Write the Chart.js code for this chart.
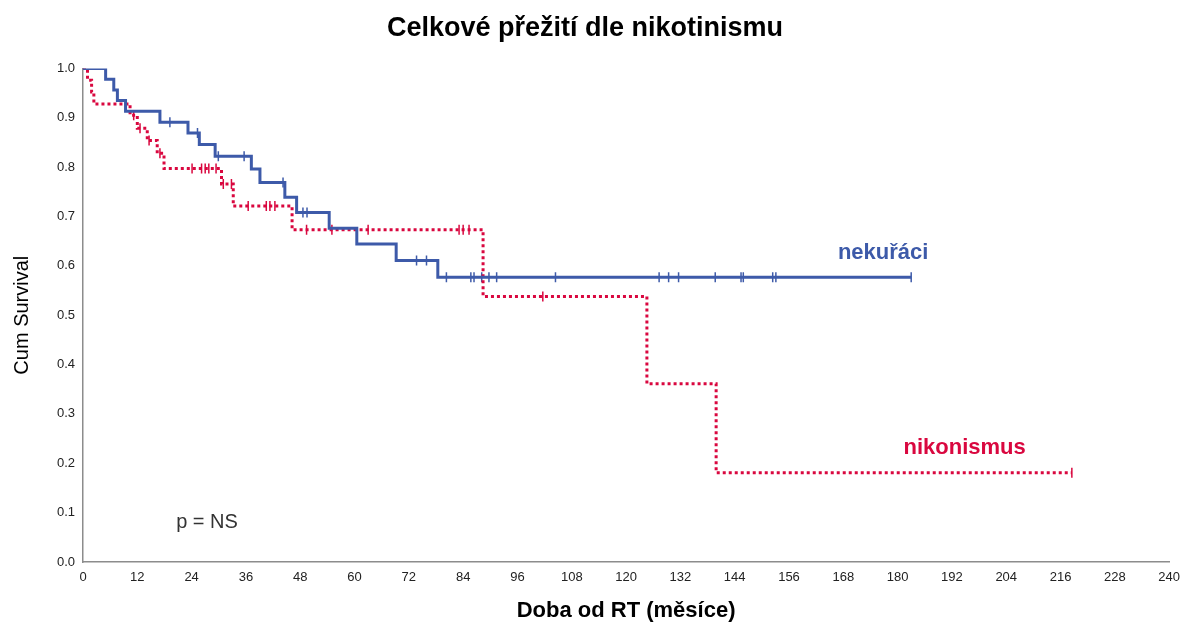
<!DOCTYPE html>
<html>
<head>
<meta charset="utf-8">
<script src="https://cdn.jsdelivr.net/npm/chart.js@4"></script>
<style>
  html, body { margin: 0; padding: 0; background: #fff; }
  #wrap { width: 1188px; height: 626px; }
</style>
</head>
<body>
<div id="wrap"><canvas id="kmChart"></canvas></div>
<script>
// nekuřáci - kroky (měsíce, přežití)
const nekuraciCas = [0, 5.0, 6.8, 7.6, 9.4, 17.0, 23.2, 25.7, 29.2, 37.2, 39.1, 44.6, 47.2, 54.4, 60.5, 69.2, 78.4, 183.0];
const nekuraciPrezit = [1.0, 0.978, 0.956, 0.935, 0.913, 0.891, 0.869, 0.846, 0.822, 0.796, 0.769, 0.739, 0.708, 0.676, 0.644, 0.611, 0.577, 0.577];
// nekuřáci - cenzorováno
const nekuraciCenzCas = [19.2, 25.3, 29.9, 35.6, 44.2, 48.6, 49.5, 73.7, 75.9, 80.3, 85.7, 86.4, 88.1, 89.7, 91.4, 104.4, 127.3, 129.4, 131.6, 139.7, 145.4, 145.9, 152.4, 153.1, 183.0];
const nekuraciCenzPrezit = [0.891, 0.869, 0.822, 0.822, 0.769, 0.708, 0.708, 0.611, 0.611, 0.577, 0.577, 0.577, 0.577, 0.577, 0.577, 0.577, 0.577, 0.577, 0.577, 0.577, 0.577, 0.577, 0.577, 0.577, 0.577];

// nikotinismus - kroky
const nikoCas = [0, 1.0, 1.9, 2.4, 10.4, 12.0, 14.2, 16.4, 17.9, 30.6, 33.2, 46.2, 88.4, 124.6, 139.9, 218.5];
const nikoPrezit = [1.0, 0.976, 0.952, 0.928, 0.905, 0.879, 0.854, 0.828, 0.797, 0.766, 0.721, 0.673, 0.538, 0.361, 0.181, 0.181];
// nikotinismus - cenzorováno
const nikoCenzCas = [11.2, 12.6, 14.6, 17.0, 24.1, 26.2, 27.0, 27.8, 29.4, 31.0, 32.8, 36.5, 40.5, 41.3, 42.4, 49.4, 55.0, 63.0, 83.1, 84.0, 85.3, 101.6, 218.5];
const nikoCenzPrezit = [0.905, 0.879, 0.854, 0.828, 0.797, 0.797, 0.797, 0.797, 0.797, 0.766, 0.766, 0.721, 0.721, 0.721, 0.721, 0.673, 0.673, 0.673, 0.673, 0.673, 0.673, 0.538, 0.181];

const xTicks = [0, 12, 24, 36, 48, 60, 72, 84, 96, 108, 120, 132, 144, 156, 168, 180, 192, 204, 216, 228, 240];
const yTicks = [0.0, 0.1, 0.2, 0.3, 0.4, 0.5, 0.6, 0.7, 0.8, 0.9, 1.0];

const modra = "#3d5aa9";
const cervena = "#d9073f";

function body(xs, ys){
    return xs.map(function(x, i){ return { x: x, y: ys[i] }; });
}

// popisky v grafu
const popisky = [
    { text: "nekuřáci", x: 176.8, y: 0.626, color: modra, font: "bold 22px 'Liberation Sans', Arial, sans-serif" },
    { text: "nikonismus", x: 194.8, y: 0.231, color: cervena, font: "bold 22px 'Liberation Sans', Arial, sans-serif" },
    { text: "p = NS", x: 27.4, y: 0.081, color: "#333", font: "20px 'Liberation Sans', Arial, sans-serif" }
];

const popiskyPlugin = {
    id: "popisky",
    afterDatasetsDraw(chart){
        const ctx = chart.ctx;
        ctx.save();
        ctx.textAlign = "center";
        ctx.textBaseline = "middle";
        popisky.forEach(function(p){
            ctx.font = p.font;
            ctx.fillStyle = p.color;
            ctx.fillText(p.text, chart.scales.x.getPixelForValue(p.x), chart.scales.y.getPixelForValue(p.y));
        });
        ctx.restore();
    }
};

Chart.defaults.font.family = "'Liberation Sans', Arial, sans-serif";
Chart.defaults.color = "#222";

new Chart(document.getElementById("kmChart"), {
    type: "line",
    data: {
        datasets: [
            {
                label: "nekuřáci",
                data: body(nekuraciCas, nekuraciPrezit),
                borderColor: modra,
                borderWidth: 3,
                stepped: "before",
                pointRadius: 0,
                fill: false
            },
            {
                label: "nikonismus",
                data: body(nikoCas, nikoPrezit),
                borderColor: cervena,
                borderWidth: 3,
                borderDash: [3, 3],
                stepped: "before",
                pointRadius: 0,
                fill: false
            },
            {
                type: "scatter",
                label: "nekuřáci cenz.",
                data: body(nekuraciCenzCas, nekuraciCenzPrezit),
                showLine: false,
                pointStyle: "line",
                rotation: 90,
                pointRadius: 5,
                borderColor: modra,
                borderWidth: 1.5
            },
            {
                type: "scatter",
                label: "nikonismus cenz.",
                data: body(nikoCenzCas, nikoCenzPrezit),
                showLine: false,
                pointStyle: "line",
                rotation: 90,
                pointRadius: 5,
                borderColor: cervena,
                borderWidth: 1.5
            }
        ]
    },
    options: {
        responsive: true,
        maintainAspectRatio: false,
        animation: false,
        layout: { padding: { left: 0, right: 18, top: 0, bottom: 0 } },
        plugins: {
            legend: { display: false },
            tooltip: { enabled: false },
            title: {
                display: true,
                text: "Celkové přežití dle nikotinismu",
                color: "#000",
                font: { size: 27, weight: "bold" },
                padding: { top: 12, bottom: 24 }
            }
        },
        scales: {
            x: {
                type: "linear",
                min: 0,
                max: 240,
                afterBuildTicks: function(scale){
                    scale.ticks = xTicks.map(function(v){ return { value: v }; });
                },
                afterFit: function(scale){ scale.height = 64; },
                grid: { display: false, drawTicks: false },
                border: { display: true, color: "#8c8c8c", width: 1.5 },
                ticks: { font: { size: 13 }, color: "#222", padding: 8, maxRotation: 0, autoSkip: false },
                title: {
                    display: true,
                    text: "Doba od RT (měsíce)",
                    color: "#000",
                    font: { size: 22, weight: "bold" },
                    padding: { top: 0, bottom: 2 }
                }
            },
            y: {
                min: 0,
                max: 1,
                afterBuildTicks: function(scale){
                    scale.ticks = yTicks.map(function(v){ return { value: v }; });
                },
                afterFit: function(scale){ scale.width = 83; },
                grid: { display: false, drawTicks: false },
                border: { display: true, color: "#8c8c8c", width: 1.5 },
                ticks: {
                    font: { size: 13 },
                    color: "#222",
                    padding: 8,
                    callback: function(value){ return Number(value).toFixed(1); }
                },
                title: {
                    display: true,
                    text: "Cum Survival",
                    color: "#000",
                    font: { size: 20 },
                    padding: { top: 10, bottom: 0 }
                }
            }
        }
    },
    plugins: [popiskyPlugin]
});
</script>
</body>
</html>
